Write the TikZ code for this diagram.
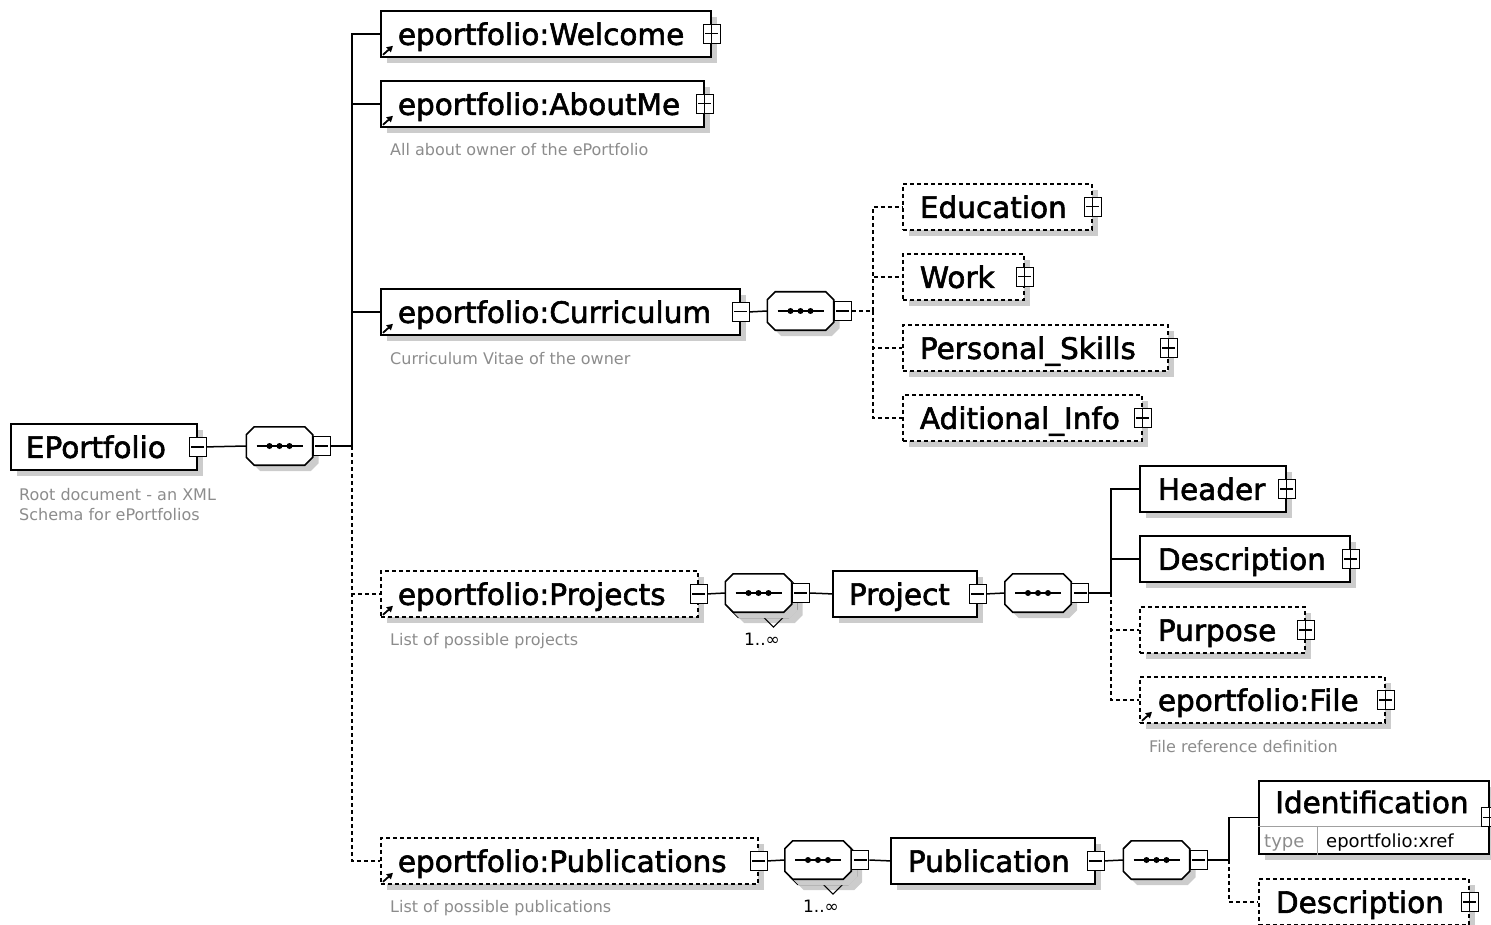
\documentclass[tikz,border=0pt]{standalone}
\usepackage{fontspec}
\setmainfont{DejaVu Sans}
\newfontfamily\elfam{DejaVu Sans}[FakeBold=2]
\usetikzlibrary{shadows,arrows.meta,calc}
\definecolor{descgray}{HTML}{8C8C8C}
\definecolor{sepgray}{HTML}{A0A0A0}
\newcommand\elfont{\elfam\fontsize{29.5}{32}\selectfont}
\newcommand\dsfont{\fontsize{16}{20}\selectfont}
% octagon outline around a (rectangular) node
\newcommand\octpath[1]{($(#1.north west)+(8,0)$) -- ($(#1.north east)+(-8,0)$) -- ($(#1.north east)+(0,8)$) -- ($(#1.south east)+(0,-8)$) -- ($(#1.south east)+(-8,0)$) -- ($(#1.south west)+(8,0)$) -- ($(#1.south west)+(0,-8)$) -- ($(#1.north west)+(0,8)$) -- cycle}
\newcommand\drawoct[1]{%
  \fill[black!20, transform canvas={shift={(6pt,-6pt)}}] \octpath{#1};
  \filldraw[fill=white, draw=black, line width=1.6pt] \octpath{#1};}
\newcommand\drawseq[1]{%
  \drawoct{#1}
  \draw[line width=1.5pt] ($(#1.center)+(-23,0)$) -- ($(#1.center)+(23,0)$);
  \foreach \dx in {-10,0,10} \fill[black] ($(#1.center)+(\dx,0)$) circle (3pt);}
\begin{document}
\begin{tikzpicture}[x=1pt,y=-1pt,
  conn/.style={line width=1.5pt},
  dconn/.style={line width=1.5pt, dash pattern=on 4pt off 3pt},
  shad/.style={drop shadow={shadow xshift=6pt, shadow yshift=-6pt, fill=black!20, opacity=1}},
  elbox/.style={draw, line width=1.8pt, fill=white, minimum height=46pt, inner xsep=0pt, inner ysep=0pt,
    text width=#1pt, align=left, anchor=north west, text height=22pt, text depth=0pt, font=\elfont, shad},
  optbox/.style={elbox=#1, dash pattern=on 4pt off 3pt},
  pm/.style={draw, line width=1.1pt, fill=white, minimum width=17pt, minimum height=19pt, inner sep=0pt},
  pmminus/.style={pm, path picture={\draw[black, line width=1.2pt]
     ([xshift=2pt]path picture bounding box.west) -- ([xshift=-2pt]path picture bounding box.east);}},
  pmplus/.style={pm, path picture={\draw[black, line width=1.2pt]
     ([xshift=2pt]path picture bounding box.west) -- ([xshift=-2pt]path picture bounding box.east)
     (path picture bounding box.north) -- (path picture bounding box.south);}},
  seqnode/.style={rectangle, minimum width=66pt, minimum height=38pt, inner sep=0pt},
  desc/.style={anchor=base west, inner sep=0pt, text=descgray, font=\dsfont},
  mult/.style={anchor=base, inner sep=0pt, font=\fontsize{17}{20}\selectfont},
  refarrow/.style={line width=1.8pt, -{Triangle[length=6pt,width=6.5pt]}},
  sepline/.style={line width=1pt, draw=sepgray}
]
\useasboundingbox (0,0) rectangle (1491,925);

% junction coordinates
\coordinate (t1) at (352,446);
\coordinate (t2) at (873,311);
\coordinate (t3) at (1111,593);
\coordinate (t4) at (1229,817);

% ---------- element boxes ----------
\node[elbox=186] (root) at (10,423) {\hspace*{15pt}EPortfolio};
\node[elbox=330] (welcome) at (380,10) {\hspace*{17pt}eportfolio:Welcome};
\node[elbox=323] (aboutme) at (380,80) {\hspace*{17pt}eportfolio:AboutMe};
\node[elbox=359] (curriculum) at (380,288) {\hspace*{17pt}eportfolio:Curriculum};
\node[optbox=317] (projects) at (380,570) {\hspace*{17pt}eportfolio:Projects};
\node[optbox=377] (publications) at (380,837) {\hspace*{17pt}eportfolio:Publications};

\node[optbox=189] (education) at (902,183) {\hspace*{17pt}Education};
\node[optbox=121] (work) at (902,253) {\hspace*{17pt}Work};
\node[optbox=265] (personal) at (902,324) {\hspace*{17pt}Personal\_Skills};
\node[optbox=239] (aditional) at (902,394) {\hspace*{17pt}Aditional\_Info};

\node[elbox=144] (project) at (832,570) {\hspace*{16pt}Project};
\node[elbox=146] (header) at (1139,465) {\hspace*{18pt}Header};
\node[elbox=210] (descr1) at (1139,535) {\hspace*{18pt}Description};
\node[optbox=165] (purpose) at (1139,606) {\hspace*{18pt}Purpose};
\node[optbox=245] (file) at (1139,676) {\hspace*{18pt}eportfolio:File};

\node[elbox=204] (publication) at (890,837) {\hspace*{17pt}Publication};
\node[elbox=230, minimum height=73pt] (ident) at (1258,780) {};
\node[optbox=210] (descr2) at (1258,878) {\hspace*{17pt}Description};

% identification inner parts
\node[anchor=west, inner sep=0pt, font=\elfont, text height=22pt, text depth=0pt] (identname) at (1275,802) {Identification};
\draw[sepline] ([yshift=28pt]ident.south west) -- ([yshift=28pt]ident.south east);
\draw[sepline] ([xshift=59pt]ident.south west) -- ([xshift=59pt,yshift=28pt]ident.south west);
\node[anchor=base west, inner sep=0pt, text=descgray, font=\fontsize{18}{20}\selectfont] (identtype) at (1264,847) {type};
\node[anchor=base west, inner sep=0pt, font=\fontsize{18}{20}\selectfont] (identval) at (1326,847) {eportfolio:xref};

% reference arrows
\foreach \n in {welcome,aboutme,curriculum,projects,publications,file}
  \draw[refarrow] ([shift={(3pt,3pt)}]\n.south west) -- ++(10,-9);

% ---------- sequences ----------
\node[seqnode] (s1) at (279.5,446) {};
\node[seqnode] (s2) at (800.5,311) {};
\node[seqnode] (s3b) at (763.5,598) {};
\node[seqnode] (s3) at (758.5,593) {};
\node[seqnode] (s4) at (1038,593) {};
\node[seqnode] (s5b) at (823,865) {};
\node[seqnode] (s5) at (818,860) {};
\node[seqnode] (s6) at (1156.5,860) {};

\drawoct{s3b}
\drawoct{s5b}
\draw[line width=1.1pt] (s3b.south) -- ++(10,10) -- ++(10,-10);
\draw[line width=1.1pt] (s5b.south) -- ++(10,10) -- ++(10,-10);
\drawseq{s1}
\drawseq{s2}
\drawseq{s3}
\drawseq{s4}
\drawseq{s5}
\drawseq{s6}
\node[mult] (m3) at (762,645) {1..∞};
\node[mult] (m5) at (821,912) {1..∞};

% ---------- plus / minus boxes ----------
\node[pmminus] (rootpm) at (root.east) {};
\node[pmplus] (welcomepm) at (welcome.east) {};
\node[pmplus] (aboutmepm) at (aboutme.east) {};
\node[pmminus] (curriculumpm) at (curriculum.east) {};
\node[pmminus] (projectspm) at (projects.east) {};
\node[pmminus] (publicationspm) at (publications.east) {};
\node[pmplus] (educationpm) at (education.east) {};
\node[pmplus] (workpm) at (work.east) {};
\node[pmplus] (personalpm) at (personal.east) {};
\node[pmplus] (aditionalpm) at (aditional.east) {};
\node[pmminus] (projectpm) at (project.east) {};
\node[pmplus] (headerpm) at (header.east) {};
\node[pmplus] (descr1pm) at (descr1.east) {};
\node[pmplus] (purposepm) at (purpose.east) {};
\node[pmplus] (filepm) at (file.east) {};
\node[pmminus] (publicationpm) at (publication.east) {};
\node[pmplus] (identpm) at (ident.east) {};
\node[pmplus] (descr2pm) at (descr2.east) {};

\node[pmminus, anchor=west] (s1pm) at (s1.east) {};
\node[pmminus, anchor=west] (s2pm) at (s2.east) {};
\node[pmminus, anchor=west] (s3pm) at (s3.east) {};
\node[pmminus, anchor=west] (s4pm) at (s4.east) {};
\node[pmminus, anchor=west] (s5pm) at (s5.east) {};
\node[pmminus, anchor=west] (s6pm) at (s6.east) {};

% ---------- descriptions ----------
\node[desc] (drootA) at (19,500) {Root document - an XML};
\node[desc] (drootB) at (19,520) {Schema for ePortfolios};
\node[desc] (daboutme) at (390,156) {All about owner of the ePortfolio};
\node[desc] (dcurr) at (390,364) {Curriculum Vitae of the owner};
\node[desc] (dproj) at (390,645) {List of possible projects};
\node[desc] (dfile) at (1149,752) {File reference definition};
\node[desc] (dpubl) at (390,912) {List of possible publications};

% ---------- connectors ----------
\draw[conn] (rootpm.east) -- (s1.west);
\draw[conn] (s1pm.east) -- (t1);
\draw[conn] (t1) |- (welcome.west);
\draw[conn] (t1) |- (aboutme.west);
\draw[conn] (t1) |- (curriculum.west);
\draw[dconn] (t1) |- (projects.west);
\draw[dconn] (t1) |- (publications.west);

\draw[conn] (curriculumpm.east) -- (s2.west);
\draw[dconn] (s2pm.east) -- (t2);
\draw[dconn] (t2) |- (education.west);
\draw[dconn] (t2) |- (work.west);
\draw[dconn] (t2) |- (personal.west);
\draw[dconn] (t2) |- (aditional.west);

\draw[conn] (projectspm.east) -- (s3.west);
\draw[conn] (s3pm.east) -- (project.west);
\draw[conn] (projectpm.east) -- (s4.west);
\draw[conn] (s4pm.east) -- (t3);
\draw[conn] (t3) |- (header.west);
\draw[conn] (t3) |- (descr1.west);
\draw[dconn] (t3) |- (purpose.west);
\draw[dconn] (t3) |- (file.west);

\draw[conn] (publicationspm.east) -- (s5.west);
\draw[conn] (s5pm.east) -- (publication.west);
\draw[conn] (publicationpm.east) -- (s6.west);
\draw[conn] (s6pm.east) -- (s6pm.east -| t4);
\draw[conn] (s6pm.east -| t4) |- (ident.west);
\draw[dconn] (s6pm.east -| t4) |- (descr2.west);
\end{tikzpicture}
\end{document}
